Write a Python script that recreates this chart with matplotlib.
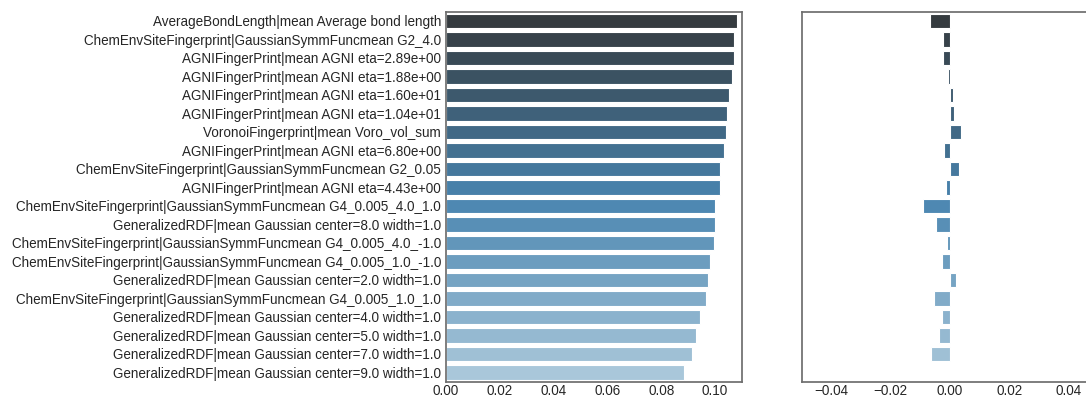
import matplotlib
matplotlib.use("Agg")
import matplotlib.pyplot as plt
import seaborn as sns
import numpy as np

features = [
    "AverageBondLength|mean Average bond length",
    "ChemEnvSiteFingerprint|GaussianSymmFuncmean G2_4.0",
    "AGNIFingerPrint|mean AGNI eta=2.89e+00",
    "AGNIFingerPrint|mean AGNI eta=1.88e+00",
    "AGNIFingerPrint|mean AGNI eta=1.60e+01",
    "AGNIFingerPrint|mean AGNI eta=1.04e+01",
    "VoronoiFingerprint|mean Voro_vol_sum",
    "AGNIFingerPrint|mean AGNI eta=6.80e+00",
    "ChemEnvSiteFingerprint|GaussianSymmFuncmean G2_0.05",
    "AGNIFingerPrint|mean AGNI eta=4.43e+00",
    "ChemEnvSiteFingerprint|GaussianSymmFuncmean G4_0.005_4.0_1.0",
    "GeneralizedRDF|mean Gaussian center=8.0 width=1.0",
    "ChemEnvSiteFingerprint|GaussianSymmFuncmean G4_0.005_4.0_-1.0",
    "ChemEnvSiteFingerprint|GaussianSymmFuncmean G4_0.005_1.0_-1.0",
    "GeneralizedRDF|mean Gaussian center=2.0 width=1.0",
    "ChemEnvSiteFingerprint|GaussianSymmFuncmean G4_0.005_1.0_1.0",
    "GeneralizedRDF|mean Gaussian center=4.0 width=1.0",
    "GeneralizedRDF|mean Gaussian center=5.0 width=1.0",
    "GeneralizedRDF|mean Gaussian center=7.0 width=1.0",
    "GeneralizedRDF|mean Gaussian center=9.0 width=1.0",
]

importance = [
    0.1083, 0.1071, 0.1069, 0.1063, 0.1053, 0.1043, 0.1042, 0.1032, 0.1019, 0.1018,
    0.1001, 0.0999, 0.0996, 0.0980, 0.0975, 0.0967, 0.0945, 0.0930, 0.0915, 0.0884,
]

change = [
    -0.0067, -0.0025, -0.0022, -0.0006, 0.0010, 0.0013, 0.0037, -0.0019, 0.0029, -0.0014,
    -0.0091, -0.0046, -0.0009, -0.0026, 0.0021, -0.0053, -0.0027, -0.0036, -0.0064, 0.0,
]

left_ticks = [0.00, 0.02, 0.04, 0.06, 0.08, 0.10]
right_ticks = [-0.04, -0.02, 0.00, 0.02, 0.04]

sns.set_style("white")
plt.rcParams["font.family"] = ["Liberation Sans", "DejaVu Sans"]
plt.rcParams["font.size"] = 9.75

# dark-to-light blues, softened the way seaborn bar plots do
colors = [sns.desaturate(c, 0.75) for c in sns.color_palette("Blues_d", len(features))[::-1]]
ypos = np.arange(len(features))

fig = plt.figure(figsize=(10.86, 3.97), dpi=100)
W, H = 1086, 397
ax1 = fig.add_axes([446 / W, 1 - 381.7 / H, (742 - 446) / W, 370 / H])
ax2 = fig.add_axes([802 / W, 1 - 381.7 / H, (1098 - 802) / W, 370 / H])

for ax, vals in ((ax1, importance), (ax2, change)):
    ax.barh(ypos, vals, height=0.8, color=colors, edgecolor="white", linewidth=0.8)
    ax.set_ylim(len(features) - 0.5, -0.5)
    for s in ax.spines.values():
        s.set_color("#6e6e6e")
        s.set_linewidth(1.25)
    ax.tick_params(axis="both", length=0, labelsize=9.75, colors="#262626")
    ax.tick_params(axis="y", pad=3.5)
    ax.tick_params(axis="x", pad=1.5)

ax1.set_xlim(0, 0.110)
ax1.set_xticks(left_ticks)
ax1.set_xticklabels([f"{t:.2f}" for t in left_ticks])
ax1.set_yticks(ypos)
ax1.set_yticklabels(features)

ax2.set_xlim(-0.05, 0.05)
ax2.set_xticks(right_ticks)
ax2.set_xticklabels([f"{t:.2f}".replace("-", "\u2212") for t in right_ticks])
ax2.set_yticks([])

fig.savefig("out.png", dpi=100)
